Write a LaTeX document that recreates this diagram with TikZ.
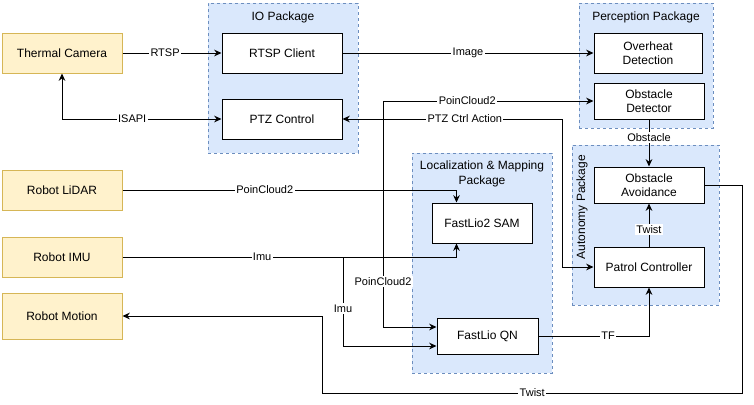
\documentclass[tikz,border=0pt]{standalone}
\usepackage{fontspec}
\setmainfont{Liberation Sans}
\usetikzlibrary{arrows.meta,calc,positioning}
\definecolor{srcfill}{HTML}{FFF2CC}
\definecolor{srcline}{HTML}{D6B656}
\definecolor{pkgfill}{HTML}{DAE8FC}
\definecolor{pkgline}{HTML}{6C8EBF}

\begin{document}
\begin{tikzpicture}[x=0.75pt, y=-0.75pt,
  srcbox/.style={rectangle, draw=srcline, line width=0.75pt, fill=srcfill, minimum width=90pt, minimum height=30pt, inner sep=0pt, align=center, font=\fontsize{9}{10.5}\selectfont},
  modbox/.style={rectangle, draw, line width=0.75pt, fill=white, inner sep=0pt, align=center, font=\fontsize{9}{10.5}\selectfont},
  pkgbox/.style={rectangle, draw=pkgline, fill=pkgfill, line width=0.6pt, dash pattern=on 2.25pt off 2.25pt, inner sep=0pt},
  pkgtitle/.style={font=\fontsize{9}{11.25}\selectfont, align=center},
  arr/.style={-{Stealth[length=5.5pt, width=5pt]}, line width=0.75pt},
  arrboth/.style={{Stealth[length=5.5pt, width=5pt]}-{Stealth[length=5.5pt, width=5pt]}, line width=0.75pt},
  lbl/.style={fill=white, inner sep=1pt, font=\fontsize{8.25}{9}\selectfont}
]
  \useasboundingbox (0,0) rectangle (754,404);

  % packages
  \node[pkgbox, minimum width=112.5pt, minimum height=112.5pt] (iopkg) at (283,78) {};
  \node[pkgbox, minimum width=100.5pt, minimum height=93.75pt] (perpkg) at (646,65.5) {};
  \node[pkgbox, minimum width=110.25pt, minimum height=120pt] (autopkg) at (645.5,225) {};
  \node[pkgbox, minimum width=105pt, minimum height=165pt] (locpkg) at (482,263) {};
  \node[pkgtitle] (iotitle) at (283,17) {IO Package};
  \node[pkgtitle] (pertitle) at (646,17) {Perception Package};
  \node[pkgtitle] (loctitle) at (482,173.5) {Localization \& Mapping\\Package};
  \node[pkgtitle, rotate=90] (autotitle) at (582,207) {Autonomy Package};

  % sources
  \node[srcbox] (cam) at (62,53) {Thermal Camera};
  \node[srcbox] (lidar) at (62,190) {Robot LiDAR};
  \node[srcbox] (imu) at (62,257) {Robot IMU};
  \node[srcbox, minimum height=34.5pt] (motion) at (62,316) {Robot Motion};

  % modules
  \node[modbox, minimum width=90pt, minimum height=30pt] (rtsp) at (282,53) {RTSP Client};
  \node[modbox, minimum width=90pt, minimum height=30pt] (ptz) at (282,119) {PTZ Control};
  \node[modbox, minimum width=81pt, minimum height=30pt] (overheat) at (648,53) {Overheat\\Detection};
  \node[modbox, minimum width=82.5pt, minimum height=27pt] (obsdet) at (649,101) {Obstacle\\Detector};
  \node[modbox, minimum width=82.5pt, minimum height=27pt] (obsavoid) at (649,185) {Obstacle\\Avoidance};
  \node[modbox, minimum width=82.5pt, minimum height=30pt] (patrol) at (649,267) {Patrol Controller};
  \node[modbox, minimum width=75pt, minimum height=30pt] (fastsam) at (482,223) {FastLio2 SAM};
  \node[modbox, minimum width=75.75pt, minimum height=27pt] (fastqn) at (487.5,336) {FastLio QN};

  \coordinate (pcjoin) at (383,190);
  \coordinate (imujoin) at (343,257);

  \draw[arr] (cam) -- node[lbl, pos=0.43] {RTSP} (rtsp);
  \draw[arrboth] (ptz.west) -| node[lbl, pos=0.28] {ISAPI} (cam.south);
  \draw[arr] (rtsp) -- node[lbl, pos=0.5] {Image} (overheat);
  \draw[arr] (lidar.east) -| node[lbl, pos=0.213] {PoinCloud2} ($(fastsam.north west)+(25,0)$);
  \draw[arr] (pcjoin) |- node[lbl, pos=0.7] {PoinCloud2} (obsdet.west);
  \draw[arr] (pcjoin) |- node[lbl, pos=0.335] {PoinCloud2} ($(fastqn.west)+(0,-9)$);
  \draw[arr] (imu.east) -| node[lbl, pos=0.209] {Imu} ($(fastsam.south west)+(25,0)$);
  \draw[arr] (imujoin) |- node[lbl, pos=0.29] {Imu} ($(fastqn.west)+(0,10)$);
  \draw[arrboth] (ptz.east) -| node[lbl, pos=0.278] {PTZ Ctrl Action} ($(patrol.west)+(-31,0)$) -- (patrol.west);
  \draw[arr] (obsdet) -- node[lbl, pos=0.375] {Obstacle} (obsavoid);
  \draw[arr] (patrol) -- node[lbl, pos=0.39] {Twist} (obsavoid);
  \draw[arr] (fastqn.east) -| node[lbl, pos=0.315] {TF} (patrol.south);
  \draw[arr] (obsavoid.east) -| (742,393) -| node[lbl, pos=0.25] {Twist} ($(motion.east)+(200,0)$) -- (motion.east);
\end{tikzpicture}
\end{document}
